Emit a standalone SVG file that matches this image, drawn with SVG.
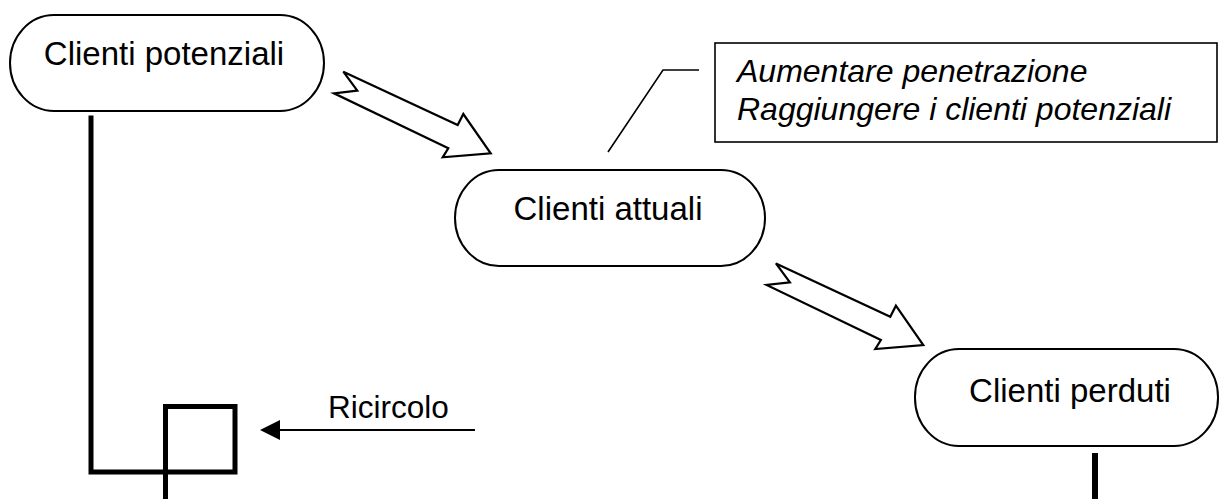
<svg xmlns="http://www.w3.org/2000/svg" width="1219" height="499" viewBox="0 0 1219 499">
  <style>
    .node { fill: #fff; stroke: #000; stroke-width: 2; }
    .label { font-family: "Liberation Sans", Arial, sans-serif; font-size: 33px; fill: #000; }
    .note { font-family: "Liberation Sans", Arial, sans-serif; font-size: 32px; font-style: italic; fill: #000; }
    .flow { fill: #fff; stroke: #000; stroke-width: 2.2; stroke-linejoin: miter; }
    .thick { fill: none; stroke: #000; stroke-width: 5; stroke-linecap: square; }
    .thin { fill: none; stroke: #000; stroke-width: 2; }
  </style>
  <defs>
    <marker id="head" viewBox="0 0 20 20" refX="0" refY="10" markerWidth="20" markerHeight="20" markerUnits="userSpaceOnUse" orient="auto">
      <path d="M20,10 L0,0 L0,20 Z" fill="#000"/>
    </marker>
    <!-- hollow block arrow, tip at the origin -->
    <path id="block" d="M-147.4,-81.6 L-133.4,-62.6 L-156.7,-60 L-42.4,-5 L-48,4 L0,0 L-27.4,-39.3 L-33,-28.3 Z"/>
  </defs>

  <g id="connectors">
    <use href="#block" class="flow" transform="translate(490.7,153.3)"/>
    <use href="#block" class="flow" transform="translate(923.3,345)"/>
    <!-- loop back from the first node -->
    <polyline class="thick" points="91,118 91,472 235,472 235,406.5 165.5,406.5 165.5,499"/>
    <line class="thick" x1="1095" y1="456" x2="1095" y2="499" style="stroke-width:6"/>
    <line class="thin" x1="475" y1="430" x2="280" y2="430" marker-end="url(#head)"/>
    <!-- callout leader -->
    <polyline class="thin" points="699,70 663,70 608,152" style="stroke-width:1.6"/>
  </g>

  <g id="n-potenziali">
    <rect class="node" x="10" y="15" width="314" height="96" rx="44" ry="48"/>
    <text class="label" x="164" y="65" text-anchor="middle">Clienti potenziali</text>
  </g>

  <g id="n-attuali">
    <rect class="node" x="455" y="170" width="310" height="96" rx="44" ry="48"/>
    <text class="label" x="608" y="220" text-anchor="middle">Clienti attuali</text>
  </g>

  <g id="n-perduti">
    <rect class="node" x="915" y="349" width="303" height="97" rx="44" ry="48"/>
    <text class="label" x="1070" y="402" text-anchor="middle">Clienti perduti</text>
  </g>

  <g id="n-note">
    <rect x="715" y="43" width="502" height="99" fill="#fff" stroke="#000" stroke-width="1.6"/>
    <text class="note" x="737" y="82">Aumentare penetrazione</text>
    <text class="note" x="737" y="120">Raggiungere i clienti potenziali</text>
  </g>

  <g id="l-ricircolo">
    <text class="label" x="328" y="418" style="font-size:31.5px">Ricircolo</text>
  </g>
</svg>
